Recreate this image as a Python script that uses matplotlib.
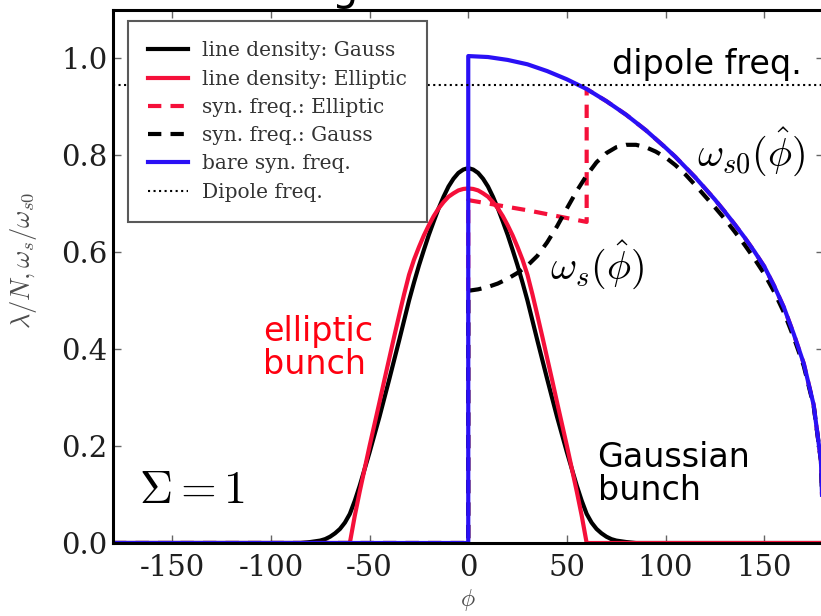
import numpy as np
import matplotlib
matplotlib.use("Agg")
import matplotlib.pyplot as plt

# ---- data (phase in degrees) ----
# line density, Gaussian bunch
phi_gauss = [-180, -85, -80, -75, -72.5, -70, -67.5, -65, -62.5, -60, -57.5, -55, -50, -45, -40, -35,
             -30, -27.5, -25, -22.5, -20, -17.5, -15, -12.5, -10, -7.5, -5, -2.5,
             0, 2.5, 5, 7.5, 10, 12.5, 15, 17.5, 20, 22.5, 25, 27.5, 30,
             35, 40, 45, 50, 55, 57.5, 60, 62.5, 65, 67.5, 70, 72.5, 75, 80, 85, 180]
lam_gauss = [0.0, 0.0, 0.002, 0.005, 0.008, 0.013, 0.02, 0.029, 0.042, 0.06, 0.087, 0.118, 0.187, 0.26, 0.338, 0.418,
             0.50, 0.537, 0.572, 0.604, 0.635, 0.663, 0.69, 0.714, 0.735, 0.751, 0.763, 0.770,
             0.773, 0.770, 0.763, 0.751, 0.735, 0.714, 0.69, 0.663, 0.635, 0.604, 0.572, 0.537, 0.50,
             0.418, 0.338, 0.26, 0.187, 0.118, 0.087, 0.06, 0.042, 0.029, 0.02, 0.013, 0.008, 0.005, 0.002, 0.0, 0.0]

# line density, elliptic bunch
phi_ell = [-180, -60, -57.5, -55, -52.5, -50, -47.5, -45, -42.5, -40, -37.5, -35, -32.5, -30, -27.5, -25,
           -22.5, -20, -17.5, -15, -12.5, -10, -7.5, -5, -2.5,
           0, 2.5, 5, 7.5, 10, 12.5, 15, 17.5, 20, 22.5, 25, 27.5, 30, 32.5, 35, 37.5, 40,
           42.5, 45, 47.5, 50, 52.5, 55, 57.5, 60, 180]
lam_ell = [0.0, 0.0, 0.056, 0.106, 0.153, 0.2, 0.245, 0.29, 0.336, 0.381, 0.426, 0.47, 0.513, 0.553, 0.584, 0.61,
           0.634, 0.655, 0.674, 0.69, 0.703, 0.714, 0.721, 0.727, 0.730,
           0.731, 0.730, 0.727, 0.721, 0.714, 0.703, 0.69, 0.674, 0.655, 0.634, 0.61, 0.584, 0.553, 0.513, 0.47, 0.426, 0.381,
           0.336, 0.29, 0.245, 0.2, 0.153, 0.106, 0.056, 0.0, 0.0]

# bare synchrotron frequency omega_s0(phi_hat)
phi_bare = [-180, 0, 0, 10, 20, 30, 40, 50, 60, 70, 80, 90, 100, 105, 110, 115, 120, 125, 130, 135,
            140, 145, 150, 155, 160, 165, 170, 175, 178.7, 180]
w_bare = [0.0, 0.0, 1.004, 1.002, 0.996, 0.987, 0.973, 0.956, 0.936, 0.911, 0.883, 0.851, 0.815, 0.796, 0.775, 0.754,
          0.731, 0.708, 0.683, 0.657, 0.630, 0.601, 0.570, 0.53, 0.485, 0.43, 0.37, 0.285, 0.17, 0.0]

# synchrotron frequency, Gaussian bunch
phi_sg = [-180, 0, 0, 5, 10, 15, 20, 25, 30, 35, 40, 45, 50, 55, 60, 65, 70, 75, 80, 85, 90, 95, 100, 105,
          110, 115, 120, 125, 130, 135, 140, 145, 150, 155, 160, 165, 170, 175, 178.7, 180]
w_sg = [0.0, 0.0, 0.52, 0.523, 0.528, 0.535, 0.545, 0.557, 0.572, 0.592, 0.62, 0.653, 0.69, 0.726, 0.758, 0.785,
        0.804, 0.816, 0.821, 0.821, 0.816, 0.807, 0.795, 0.779, 0.76, 0.738, 0.715, 0.692, 0.668, 0.642, 0.615,
        0.586, 0.555, 0.518, 0.475, 0.423, 0.365, 0.283, 0.17, 0.0]

# synchrotron frequency, elliptic bunch (inside the bunch); outside it follows the bare curve
phi_se = [-180, 0, 0, 10, 20, 30, 40, 50, 60]
w_se = [0.0, 0.0, 0.707, 0.700, 0.693, 0.686, 0.678, 0.670, 0.662]

dipole_freq = 0.944

plt.rcParams["axes.unicode_minus"] = False
plt.rcParams["mathtext.fontset"] = "cm"

fig = plt.figure(figsize=(8.21, 6.16), dpi=100)
ax = fig.add_axes([113 / 821, 73 / 616, 710.5 / 821, 533.5 / 616])

pb = np.array(phi_bare)
wb = np.array(w_bare)
out = pb >= 60
phi_se_all = np.concatenate([phi_se, pb[out]])
w_se_all = np.concatenate([w_se, wb[out]])

ax.plot(phi_gauss, lam_gauss, color="black", lw=3, label="line density: Gauss")
ax.plot(phi_ell, lam_ell, color="#f5103a", lw=3, label="line density: Elliptic")
ax.plot(phi_se_all, w_se_all, color="#f5103a", lw=3, ls="--", dashes=(3.2, 2.2), label="syn. freq.: Elliptic")
ax.plot(phi_sg, w_sg, color="black", lw=3, ls="--", dashes=(3.2, 2.2), label="syn. freq.: Gauss")
ax.plot(phi_bare, w_bare, color="#2a10f5", lw=3, label="bare syn. freq.")
ax.axhline(dipole_freq, color="black", lw=1.5, ls=":", label="Dipole freq.")

ax.set_xlim(-180, 180)
ax.set_ylim(0, 1.1)
ax.set_xticks([-150, -100, -50, 0, 50, 100, 150])
ax.set_yticks([0.0, 0.2, 0.4, 0.6, 0.8, 1.0])
ax.set_yticklabels(["0.0", "0.2", "0.4", "0.6", "0.8", "1.0"])
ax.tick_params(direction="in", length=6, width=1, color="0.4", top=True, right=True,
               labelsize=21, labelcolor="0.12")
ax.tick_params(axis="x", pad=8)
ax.tick_params(axis="y", pad=4)
for lab in ax.get_xticklabels() + ax.get_yticklabels():
    lab.set_family("DejaVu Serif")
for sp in ax.spines.values():
    sp.set_linewidth(2.2)

ax.set_ylabel(r"$\lambda/N, \omega_s/\omega_{s0}$", fontsize=19, color="0.3")
ax.yaxis.set_label_coords(-0.104, 0.53)
ax.set_xlabel(r"$\phi$", fontsize=17, color="0.3")
ax.xaxis.set_label_coords(0.5, -0.082)

leg = ax.legend(loc="upper left", bbox_to_anchor=(0.021, 0.978), borderaxespad=0,
                prop={"family": "DejaVu Serif", "size": 14.5}, fancybox=False, framealpha=1,
                edgecolor="0.35", borderpad=1.0, labelspacing=0.46, handlelength=2.0,
                handletextpad=0.7)
leg.get_frame().set_linewidth(1.5)
for t in leg.get_texts():
    t.set_color("0.2")

# hand-written annotations
ax.text(73, 0.986, "dipole freq.", fontsize=24, va="center", ha="left")
ax.text(116, 0.806, r"$\omega_{s0}(\hat{\phi})$", fontsize=29, va="center", ha="left")
ax.text(41.6, 0.573, r"$\omega_{s}(\hat{\phi})$", fontsize=29, va="center", ha="left")
ax.text(-104, 0.47, "elliptic\nbunch", fontsize=24, color="#ff0010", va="top", ha="left", linespacing=1.0)
ax.text(65.5, 0.21, "Gaussian\nbunch", fontsize=24, color="black", va="top", ha="left", linespacing=1.0)
ax.text(-167, 0.109, r"$\Sigma = \mathbf{1}$", fontsize=33, va="center", ha="left")

# bottom of a cropped title letter above the frame
fig.text(0.404, 1.0, "g", fontsize=30, va="baseline", ha="left")

fig.savefig("out.png", dpi=100)
